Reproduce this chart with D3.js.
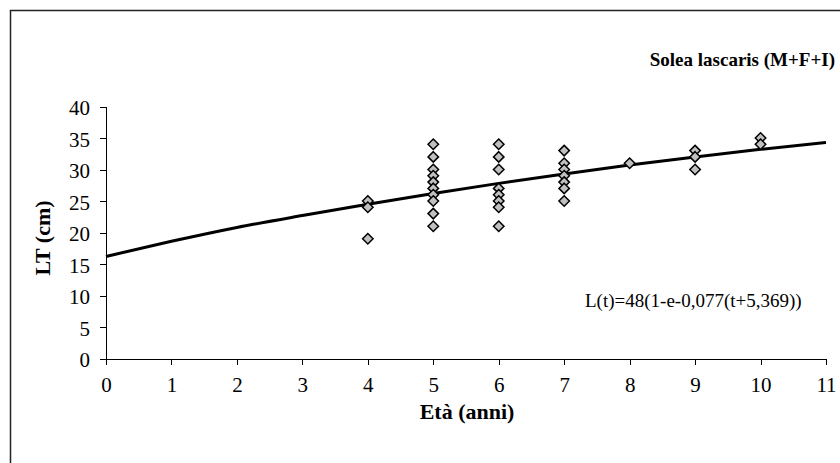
<!DOCTYPE html>
<html>
<head>
<meta charset="utf-8">
<script src="https://cdn.jsdelivr.net/npm/d3@7"></script>
<style>
  body { margin: 0; background: #fff; }
  .axis path, .axis line { stroke: #000; stroke-width: 1; shape-rendering: crispEdges; }
</style>
</head>
<body>
<svg id="chart"></svg>
<script>
// observed lengths by age
let ages = [4, 4, 4,
  5, 5, 5, 5, 5, 5, 5, 5, 5, 5,
  6, 6, 6, 6, 6, 6, 6, 6,
  7, 7, 7, 7, 7, 7, 7,
  8,
  9, 9, 9,
  10, 10];
let lengths = [25, 24, 19,
  34, 32, 30, 29, 28, 27, 26, 25, 23, 21,
  34, 32, 30, 27, 26, 25, 24, 21,
  33, 31, 30, 29, 28, 27, 25,
  31,
  33, 32, 30,
  35, 34];

// growth curve
let curveAges = [0, 1, 2, 3, 4, 5, 6, 7, 8, 9, 10, 11];
let curveLengths = [16.2, 18.6, 20.8, 22.7, 24.5, 26.2, 27.8, 29.3, 30.7, 32.0, 33.2, 34.3];

let xTicks = [0, 1, 2, 3, 4, 5, 6, 7, 8, 9, 10, 11];
let yTicks = [0, 5, 10, 15, 20, 25, 30, 35, 40];

const FONT = "'Liberation Serif', 'Times New Roman', Times, serif";

let config = { svg: {}, plot: {} };
config.svg.width = 840;
config.svg.height = 463;
config.plot.x = 106;
config.plot.y = 106.5;
config.plot.width = 720;
config.plot.height = 252;

let svg = d3.select("svg#chart")
  .attr("width", config.svg.width)
  .attr("height", config.svg.height);

// outer frame (right and bottom edges fall outside the picture)
svg.append("rect")
  .attr("x", 10.5)
  .attr("y", 10.5)
  .attr("width", 900)
  .attr("height", 500)
  .attr("fill", "none")
  .attr("stroke", "#222")
  .attr("stroke-width", 1.5);

let scale = {};
scale.x = d3.scaleLinear().domain([0, 11]).range([0, config.plot.width]);
scale.y = d3.scaleLinear().domain([0, 40]).range([config.plot.height, 0]);

let plot = svg.append("g")
  .attr("transform", translate(config.plot.x, config.plot.y));

let gx = plot.append("g")
  .attr("class", "axis")
  .attr("transform", translate(0, config.plot.height))
  .call(d3.axisBottom(scale.x).tickValues(xTicks).tickSize(6).tickSizeOuter(0));

let gy = plot.append("g")
  .attr("class", "axis")
  .call(d3.axisLeft(scale.y).tickValues(yTicks).tickSize(6).tickSizeOuter(0).tickPadding(10));

gx.attr("font-family", FONT).attr("font-size", 21);
gy.attr("font-family", FONT).attr("font-size", 21);
gx.selectAll(".tick text").attr("y", 33).attr("dy", 0);
gy.selectAll(".tick text").attr("dy", "0.4em");
gx.select(".domain").attr("stroke", "#808080");

let line = d3.line()
  .x((d, i) => scale.x(curveAges[i]))
  .y(d => scale.y(d))
  .curve(d3.curveMonotoneX);

plot.append("path")
  .datum(curveLengths)
  .attr("d", line)
  .attr("fill", "none")
  .attr("stroke", "#000")
  .attr("stroke-width", 3);

let diamond = d3.symbol().type(d3.symbolDiamond2).size(70);

plot.selectAll("path.point")
  .data(lengths)
  .enter()
  .append("path")
  .attr("class", "point")
  .attr("d", diamond)
  .attr("transform", (d, i) => translate(scale.x(ages[i]), scale.y(d)))
  .attr("fill", "#c0c0c0")
  .attr("stroke", "#000")
  .attr("stroke-width", 1.5);

svg.append("text")
  .text("Solea lascaris (M+F+I)")
  .attr("x", 835)
  .attr("y", 66)
  .attr("text-anchor", "end")
  .attr("font-family", FONT)
  .attr("font-size", "19px")
  .attr("font-weight", "bold");

svg.append("text")
  .text("L(t)=48(1-e-0,077(t+5,369))")
  .attr("x", 585)
  .attr("y", 307)
  .attr("font-family", FONT)
  .attr("font-size", "19px");

svg.append("text")
  .text("Età (anni)")
  .attr("x", 467)
  .attr("y", 419)
  .attr("text-anchor", "middle")
  .attr("font-family", FONT)
  .attr("font-size", "22px")
  .attr("font-weight", "bold");

svg.append("text")
  .text("LT (cm)")
  .attr("transform", translate(50, 238) + " rotate(-90)")
  .attr("text-anchor", "middle")
  .attr("font-family", FONT)
  .attr("font-size", "22px")
  .attr("font-weight", "bold");

function translate(x, y) {
  return "translate(" + x + "," + y + ")";
}
</script>
</body>
</html>
